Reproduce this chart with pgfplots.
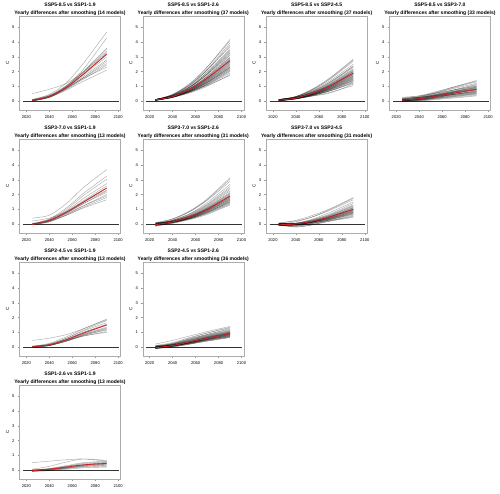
\documentclass[border=0pt]{standalone}
\usepackage{fontspec}
\setmainfont{Liberation Sans}
\usepackage{pgfplots}
\pgfplotsset{compat=1.18}
\definecolor{meanred}{RGB}{205,35,35}
\pgfplotsset{
  every axis title/.style={at={(0.5,1)},anchor=south,inner sep=0pt,yshift=0.8pt,align=center,font=\bfseries\fontsize{5}{7.6}\selectfont},
  every axis y label/.style={at={(axis description cs:-0.118,0.5)},rotate=90,anchor=center,font=\fontsize{4.5}{5}\selectfont},
  panel/.style={scale only axis, width=101pt, height=94pt, anchor=south west,
    xmin=2014, xmax=2102, ymin=-0.62, ymax=5.78,
    xtick={2020,2040,2060,2080,2100}, ytick={0,1,2,3,4,5},
    xtick pos=bottom, ytick pos=left, tick align=outside, major tick length=1.8pt,
    axis line style={gray!65, line width=0.5pt},
    every tick/.style={gray!80, line width=0.4pt},
    ticklabel style={font=\fontsize{4.1}{4.1}\selectfont, text=black, inner sep=0pt},
    xticklabel style={yshift=-3.8pt},
    yticklabel style={xshift=-3pt},
    /pgf/number format/assume math mode=true,
    /pgf/number format/1000 sep={},
    ylabel={C},
    no markers,
  },
  gl/.style={black, opacity=0.32, line width=0.45pt, smooth},
  rl/.style={meanred, line width=0.85pt, smooth},
  zl/.style={black!80, line width=0.9pt},
}
\newcommand{\G}[5]{\addplot[gl] coordinates {(2025,#1)(2040,#2)(2055,#3)(2070,#4)(2090,#5)};}
\newcommand{\R}[5]{\addplot[rl] coordinates {(2025,#1)(2040,#2)(2055,#3)(2070,#4)(2090,#5)};}
\newcommand{\Z}{\addplot[zl] coordinates {(2017,0)(2100.5,0)};}
\begin{document}
\begin{tikzpicture}
\path[use as bounding box] (0,0) rectangle (500pt,493pt);
% ---------- Panel 1
\begin{axis}[panel, at={(19.5pt,382.9pt)}, title={SSP5-8.5 vs SSP1-1.9\\Yearly differences after smoothing (14 models)}]
\Z
\G{0.10}{0.45}{1.25}{2.60}{4.70}
\G{0.50}{0.80}{1.20}{2.00}{3.40}
\G{0.05}{0.35}{1.05}{2.20}{4.30}
\G{0.05}{0.35}{1.00}{2.05}{3.60}
\G{0.00}{0.30}{0.95}{2.00}{3.55}
\G{0.10}{0.40}{1.05}{1.95}{3.30}
\G{0.00}{0.25}{0.90}{1.85}{3.15}
\G{0.05}{0.30}{0.95}{1.80}{3.00}
\G{0.00}{0.30}{0.90}{1.70}{2.80}
\G{0.05}{0.25}{0.85}{1.60}{2.70}
\G{0.10}{0.35}{0.90}{1.60}{2.55}
\G{0.00}{0.25}{0.80}{1.50}{2.45}
\G{0.05}{0.30}{0.85}{1.55}{2.30}
\G{0.00}{0.25}{0.75}{1.35}{2.10}
\R{0.05}{0.32}{0.95}{1.85}{3.20}
\end{axis}
% ---------- Panel 2
\begin{axis}[panel, at={(142.8pt,382.9pt)}, title={SSP5-8.5 vs SSP1-2.6\\Yearly differences after smoothing (37 models)}]
\Z
\G{0.10}{0.42}{1.15}{2.30}{4.20}
\G{0.05}{0.45}{1.20}{2.30}{4.10}
\G{0.10}{0.40}{1.10}{2.15}{3.95}
\G{0.05}{0.40}{1.05}{2.10}{3.80}
\G{0.10}{0.45}{1.10}{2.10}{3.70}
\G{0.05}{0.35}{0.95}{1.95}{3.55}
\G{0.10}{0.40}{1.00}{1.95}{3.45}
\G{0.05}{0.35}{0.95}{1.85}{3.40}
\G{0.10}{0.35}{0.95}{1.85}{3.30}
\G{0.05}{0.30}{0.90}{1.80}{3.25}
\G{0.10}{0.40}{0.95}{1.80}{3.15}
\G{0.05}{0.30}{0.85}{1.70}{3.10}
\G{0.10}{0.35}{0.85}{1.65}{3.00}
\G{0.05}{0.30}{0.85}{1.65}{2.95}
\G{0.10}{0.35}{0.85}{1.60}{2.90}
\G{0.05}{0.30}{0.80}{1.55}{2.85}
\G{0.10}{0.30}{0.80}{1.55}{2.80}
\G{0.05}{0.30}{0.80}{1.50}{2.75}
\G{0.10}{0.35}{0.80}{1.50}{2.70}
\G{0.05}{0.25}{0.75}{1.45}{2.65}
\G{0.10}{0.30}{0.75}{1.45}{2.60}
\G{0.05}{0.30}{0.75}{1.40}{2.55}
\G{0.10}{0.30}{0.75}{1.40}{2.50}
\G{0.05}{0.25}{0.70}{1.35}{2.45}
\G{0.10}{0.30}{0.70}{1.35}{2.40}
\G{0.05}{0.25}{0.70}{1.30}{2.35}
\G{0.10}{0.30}{0.70}{1.30}{2.30}
\G{0.05}{0.25}{0.65}{1.25}{2.30}
\G{0.10}{0.30}{0.65}{1.25}{2.25}
\G{0.05}{0.25}{0.65}{1.20}{2.20}
\G{0.10}{0.30}{0.70}{1.25}{2.15}
\G{0.05}{0.25}{0.60}{1.15}{2.10}
\G{0.10}{0.30}{0.65}{1.15}{2.05}
\G{0.05}{0.25}{0.60}{1.10}{2.00}
\G{0.10}{0.30}{0.65}{1.10}{1.90}
\G{0.05}{0.25}{0.55}{1.00}{1.80}
\G{0.10}{0.30}{0.60}{1.05}{1.75}
\R{0.08}{0.30}{0.80}{1.55}{2.75}
\end{axis}
% ---------- Panel 3
\begin{axis}[panel, at={(266.1pt,382.9pt)}, title={SSP5-8.5 vs SSP2-4.5\\Yearly differences after smoothing (37 models)}]
\Z
\G{0.05}{0.30}{0.85}{1.60}{2.85}
\G{0.10}{0.30}{0.80}{1.55}{2.80}
\G{0.05}{0.30}{0.80}{1.50}{2.70}
\G{0.10}{0.30}{0.75}{1.40}{2.50}
\G{0.05}{0.25}{0.70}{1.30}{2.40}
\G{0.10}{0.30}{0.70}{1.30}{2.35}
\G{0.05}{0.25}{0.65}{1.25}{2.30}
\G{0.10}{0.25}{0.65}{1.20}{2.20}
\G{0.05}{0.25}{0.60}{1.15}{2.15}
\G{0.10}{0.25}{0.60}{1.15}{2.10}
\G{0.05}{0.20}{0.60}{1.10}{2.05}
\G{0.10}{0.25}{0.60}{1.10}{2.00}
\G{0.05}{0.20}{0.55}{1.05}{2.00}
\G{0.10}{0.25}{0.55}{1.05}{1.95}
\G{0.05}{0.20}{0.55}{1.05}{1.90}
\G{0.00}{0.20}{0.55}{1.00}{1.90}
\G{0.10}{0.25}{0.55}{1.00}{1.85}
\G{0.05}{0.20}{0.50}{1.00}{1.80}
\G{0.00}{0.20}{0.50}{0.95}{1.80}
\G{0.10}{0.20}{0.50}{0.95}{1.75}
\G{0.05}{0.20}{0.50}{0.95}{1.70}
\G{0.00}{0.15}{0.45}{0.90}{1.70}
\G{0.05}{0.20}{0.50}{0.90}{1.65}
\G{0.10}{0.20}{0.45}{0.90}{1.60}
\G{0.05}{0.15}{0.45}{0.85}{1.60}
\G{0.00}{0.15}{0.45}{0.85}{1.55}
\G{0.05}{0.20}{0.45}{0.85}{1.50}
\G{0.10}{0.20}{0.45}{0.80}{1.50}
\G{0.05}{0.15}{0.40}{0.80}{1.45}
\G{0.00}{0.15}{0.40}{0.75}{1.40}
\G{0.05}{0.20}{0.45}{0.80}{1.40}
\G{0.10}{0.20}{0.40}{0.75}{1.35}
\G{0.05}{0.15}{0.40}{0.70}{1.30}
\G{0.00}{0.15}{0.35}{0.70}{1.25}
\G{0.05}{0.15}{0.40}{0.70}{1.20}
\G{0.10}{0.20}{0.35}{0.55}{1.15}
\G{0.05}{0.15}{0.35}{0.60}{1.05}
\R{0.05}{0.20}{0.55}{1.05}{1.90}
\end{axis}
% ---------- Panel 4
\begin{axis}[panel, at={(389.4pt,382.9pt)}, title={SSP5-8.5 vs SSP3-7.0\\Yearly differences after smoothing (33 models)}]
\Z
\G{0.10}{0.30}{0.60}{0.95}{1.40}
\G{0.20}{0.35}{0.65}{0.95}{1.35}
\G{0.05}{0.25}{0.55}{0.90}{1.30}
\G{0.15}{0.30}{0.55}{0.85}{1.20}
\G{0.00}{0.20}{0.45}{0.75}{1.15}
\G{0.10}{0.25}{0.50}{0.75}{1.10}
\G{0.05}{0.20}{0.45}{0.70}{1.05}
\G{0.25}{0.35}{0.55}{0.75}{1.00}
\G{0.00}{0.15}{0.40}{0.65}{1.00}
\G{0.10}{0.20}{0.40}{0.65}{0.95}
\G{0.05}{0.15}{0.35}{0.60}{0.95}
\G{0.00}{0.15}{0.35}{0.60}{0.90}
\G{0.15}{0.25}{0.45}{0.65}{0.90}
\G{0.05}{0.15}{0.35}{0.55}{0.85}
\G{0.10}{0.20}{0.40}{0.60}{0.85}
\G{0.00}{0.10}{0.30}{0.50}{0.80}
\G{0.05}{0.15}{0.35}{0.55}{0.80}
\G{0.15}{0.25}{0.40}{0.60}{0.80}
\G{0.00}{0.10}{0.30}{0.50}{0.75}
\G{0.10}{0.15}{0.35}{0.55}{0.75}
\G{0.05}{0.10}{0.30}{0.45}{0.70}
\G{-0.05}{0.05}{0.25}{0.45}{0.70}
\G{0.10}{0.15}{0.30}{0.45}{0.65}
\G{0.00}{0.10}{0.25}{0.45}{0.65}
\G{0.05}{0.10}{0.25}{0.40}{0.60}
\G{0.20}{0.25}{0.35}{0.45}{0.60}
\G{0.00}{0.05}{0.20}{0.35}{0.55}
\G{0.10}{0.15}{0.25}{0.40}{0.55}
\G{0.05}{0.05}{0.20}{0.35}{0.50}
\G{-0.05}{0.00}{0.15}{0.30}{0.50}
\G{0.10}{0.10}{0.20}{0.30}{0.45}
\G{0.00}{0.05}{0.15}{0.25}{0.40}
\G{0.05}{0.00}{0.10}{0.20}{0.35}
\R{0.05}{0.15}{0.33}{0.53}{0.80}
\end{axis}
% ---------- Panel 5
\begin{axis}[panel, at={(19.5pt,259.9pt)}, title={SSP3-7.0 vs SSP1-1.9\\Yearly differences after smoothing (13 models)}]
\Z
\G{0.40}{0.60}{1.40}{2.50}{3.70}
\G{0.00}{0.35}{1.10}{2.10}{3.25}
\G{0.05}{0.30}{1.00}{1.95}{3.05}
\G{-0.05}{0.30}{0.90}{1.75}{2.75}
\G{0.00}{0.25}{0.85}{1.60}{2.60}
\G{-0.05}{0.20}{0.80}{1.55}{2.45}
\G{0.20}{0.40}{0.85}{1.50}{2.30}
\G{-0.05}{0.20}{0.75}{1.40}{2.25}
\G{0.00}{0.25}{0.75}{1.40}{2.15}
\G{-0.05}{0.15}{0.65}{1.25}{2.00}
\G{0.00}{0.20}{0.70}{1.25}{1.90}
\G{-0.05}{0.15}{0.60}{1.15}{1.80}
\G{0.00}{0.20}{0.60}{1.10}{1.65}
\R{-0.05}{0.25}{0.80}{1.50}{2.45}
\end{axis}
% ---------- Panel 6
\begin{axis}[panel, at={(142.8pt,259.9pt)}, title={SSP3-7.0 vs SSP1-2.6\\Yearly differences after smoothing (31 models)}]
\Z
\G{0.05}{0.35}{0.90}{1.70}{3.15}
\G{0.00}{0.30}{0.85}{1.65}{3.05}
\G{0.10}{0.35}{0.85}{1.60}{2.90}
\G{-0.05}{0.25}{0.70}{1.45}{2.70}
\G{0.00}{0.25}{0.70}{1.35}{2.55}
\G{0.05}{0.25}{0.65}{1.30}{2.45}
\G{-0.10}{0.20}{0.60}{1.25}{2.35}
\G{0.00}{0.20}{0.60}{1.20}{2.25}
\G{-0.05}{0.20}{0.55}{1.15}{2.15}
\G{0.05}{0.20}{0.55}{1.10}{2.10}
\G{-0.10}{0.15}{0.50}{1.10}{2.05}
\G{0.00}{0.20}{0.55}{1.05}{2.00}
\G{-0.05}{0.15}{0.50}{1.05}{1.95}
\G{0.05}{0.20}{0.50}{1.00}{1.90}
\G{-0.10}{0.10}{0.45}{1.00}{1.90}
\G{0.00}{0.15}{0.50}{1.00}{1.85}
\G{-0.05}{0.15}{0.45}{0.95}{1.80}
\G{0.10}{0.20}{0.50}{0.95}{1.80}
\G{-0.15}{0.10}{0.45}{0.95}{1.75}
\G{0.00}{0.15}{0.45}{0.90}{1.70}
\G{-0.05}{0.10}{0.40}{0.90}{1.70}
\G{0.05}{0.15}{0.45}{0.90}{1.65}
\G{-0.10}{0.10}{0.40}{0.85}{1.60}
\G{0.00}{0.15}{0.40}{0.85}{1.60}
\G{-0.05}{0.10}{0.40}{0.80}{1.55}
\G{0.05}{0.15}{0.40}{0.80}{1.50}
\G{-0.15}{0.05}{0.35}{0.80}{1.50}
\G{0.00}{0.10}{0.35}{0.75}{1.45}
\G{-0.05}{0.10}{0.35}{0.75}{1.40}
\G{0.10}{0.15}{0.35}{0.70}{1.35}
\G{-0.10}{0.05}{0.30}{0.65}{1.30}
\R{-0.05}{0.15}{0.50}{1.00}{1.90}
\end{axis}
% ---------- Panel 7
\begin{axis}[panel, at={(266.1pt,259.9pt)}, title={SSP3-7.0 vs SSP2-4.5\\Yearly differences after smoothing (31 models)}]
\Z
\G{0.05}{0.25}{0.60}{1.05}{1.80}
\G{0.00}{0.15}{0.50}{1.00}{1.75}
\G{0.10}{0.20}{0.50}{0.95}{1.65}
\G{-0.05}{0.05}{0.35}{0.80}{1.50}
\G{0.00}{0.05}{0.30}{0.70}{1.40}
\G{0.05}{0.05}{0.30}{0.65}{1.30}
\G{-0.10}{-0.05}{0.25}{0.60}{1.25}
\G{0.00}{0.00}{0.25}{0.60}{1.20}
\G{-0.05}{0.00}{0.20}{0.55}{1.15}
\G{0.05}{0.05}{0.25}{0.55}{1.10}
\G{-0.10}{-0.10}{0.15}{0.50}{1.10}
\G{0.00}{0.00}{0.20}{0.50}{1.05}
\G{-0.05}{-0.05}{0.15}{0.50}{1.00}
\G{0.05}{0.05}{0.20}{0.50}{1.00}
\G{-0.10}{-0.05}{0.15}{0.45}{0.95}
\G{0.00}{0.00}{0.20}{0.45}{0.95}
\G{-0.05}{-0.10}{0.10}{0.40}{0.90}
\G{0.05}{0.00}{0.15}{0.45}{0.90}
\G{-0.10}{-0.05}{0.15}{0.40}{0.85}
\G{0.00}{0.05}{0.15}{0.40}{0.85}
\G{-0.05}{-0.15}{0.05}{0.35}{0.80}
\G{0.05}{0.00}{0.15}{0.40}{0.80}
\G{-0.10}{-0.05}{0.10}{0.35}{0.75}
\G{0.00}{0.00}{0.15}{0.35}{0.75}
\G{-0.05}{-0.20}{-0.05}{0.30}{0.70}
\G{0.05}{0.00}{0.10}{0.30}{0.70}
\G{-0.10}{-0.10}{0.05}{0.30}{0.65}
\G{0.00}{-0.05}{0.05}{0.25}{0.60}
\G{-0.05}{-0.20}{-0.05}{0.20}{0.55}
\G{0.05}{0.00}{0.10}{0.25}{0.50}
\G{-0.10}{-0.15}{0.00}{0.20}{0.45}
\R{-0.05}{0.00}{0.20}{0.50}{1.00}
\end{axis}
% ---------- Panel 8
\begin{axis}[panel, at={(19.5pt,136.9pt)}, title={SSP2-4.5 vs SSP1-1.9\\Yearly differences after smoothing (13 models)}]
\Z
\G{0.05}{0.25}{0.70}{1.25}{1.90}
\G{0.45}{0.60}{0.85}{1.25}{1.85}
\G{0.00}{0.20}{0.60}{1.15}{1.80}
\G{0.05}{0.20}{0.60}{1.10}{1.65}
\G{-0.05}{0.10}{0.50}{1.00}{1.55}
\G{0.00}{0.15}{0.55}{1.00}{1.50}
\G{0.05}{0.15}{0.50}{0.90}{1.35}
\G{-0.05}{0.10}{0.45}{0.85}{1.30}
\G{0.00}{0.15}{0.45}{0.85}{1.25}
\G{0.05}{0.10}{0.40}{0.80}{1.20}
\G{-0.05}{0.10}{0.40}{0.80}{1.15}
\G{0.00}{0.10}{0.40}{0.75}{1.05}
\G{0.05}{0.15}{0.45}{0.75}{1.00}
\R{0.00}{0.15}{0.50}{0.95}{1.50}
\end{axis}
% ---------- Panel 9
\begin{axis}[panel, at={(142.8pt,136.9pt)}, title={SSP2-4.5 vs SSP1-2.6\\Yearly differences after smoothing (36 models)}]
\Z
\G{0.20}{0.45}{0.75}{1.05}{1.40}
\G{0.00}{0.25}{0.60}{0.95}{1.35}
\G{0.10}{0.30}{0.65}{0.95}{1.30}
\G{-0.05}{0.20}{0.55}{0.85}{1.25}
\G{0.05}{0.25}{0.55}{0.85}{1.20}
\G{0.00}{0.20}{0.50}{0.80}{1.15}
\G{-0.10}{0.15}{0.45}{0.75}{1.10}
\G{0.05}{0.20}{0.50}{0.80}{1.10}
\G{0.00}{0.15}{0.45}{0.75}{1.05}
\G{-0.05}{0.15}{0.40}{0.70}{1.05}
\G{0.10}{0.20}{0.45}{0.70}{1.00}
\G{-0.10}{0.10}{0.35}{0.65}{1.00}
\G{0.00}{0.15}{0.40}{0.70}{1.00}
\G{-0.05}{0.10}{0.35}{0.65}{0.95}
\G{0.05}{0.15}{0.40}{0.65}{0.95}
\G{-0.10}{0.05}{0.30}{0.60}{0.95}
\G{0.00}{0.10}{0.35}{0.60}{0.90}
\G{-0.05}{0.10}{0.35}{0.60}{0.90}
\G{0.10}{0.15}{0.35}{0.60}{0.90}
\G{-0.10}{0.05}{0.30}{0.55}{0.85}
\G{0.00}{0.10}{0.30}{0.55}{0.85}
\G{-0.05}{0.10}{0.30}{0.55}{0.85}
\G{0.05}{0.10}{0.30}{0.55}{0.80}
\G{-0.10}{0.05}{0.25}{0.50}{0.80}
\G{0.00}{0.10}{0.30}{0.50}{0.80}
\G{-0.05}{0.05}{0.25}{0.50}{0.75}
\G{0.00}{0.10}{0.25}{0.50}{0.75}
\G{0.05}{0.10}{0.30}{0.50}{0.75}
\G{-0.10}{0.00}{0.20}{0.45}{0.70}
\G{0.00}{0.10}{0.25}{0.45}{0.70}
\G{-0.05}{0.05}{0.25}{0.45}{0.70}
\G{0.00}{0.05}{0.20}{0.40}{0.65}
\G{-0.10}{0.00}{0.20}{0.40}{0.65}
\G{-0.05}{0.10}{0.35}{0.65}{0.95}
\G{0.00}{0.15}{0.35}{0.60}{0.90}
\G{-0.05}{0.05}{0.30}{0.55}{0.85}
\R{-0.05}{0.10}{0.35}{0.60}{0.90}
\end{axis}
% ---------- Panel 10
\begin{axis}[panel, at={(19.5pt,13.9pt)}, title={SSP1-2.6 vs SSP1-1.9\\Yearly differences after smoothing (13 models)}]
\Z
\G{0.50}{0.60}{0.70}{0.75}{0.60}
\G{0.05}{0.25}{0.55}{0.75}{0.65}
\G{-0.05}{0.10}{0.30}{0.50}{0.60}
\G{0.00}{0.10}{0.25}{0.45}{0.55}
\G{-0.10}{0.05}{0.25}{0.40}{0.50}
\G{0.00}{0.05}{0.20}{0.35}{0.50}
\G{-0.05}{0.05}{0.20}{0.35}{0.45}
\G{-0.10}{0.00}{0.15}{0.30}{0.40}
\G{0.00}{0.05}{0.15}{0.30}{0.40}
\G{-0.05}{0.00}{0.15}{0.25}{0.35}
\G{-0.10}{-0.05}{0.10}{0.25}{0.30}
\G{0.00}{0.05}{0.10}{0.20}{0.25}
\G{-0.05}{0.00}{0.05}{0.15}{0.20}
\R{-0.05}{0.05}{0.20}{0.35}{0.45}
\end{axis}
\end{tikzpicture}
\end{document}
